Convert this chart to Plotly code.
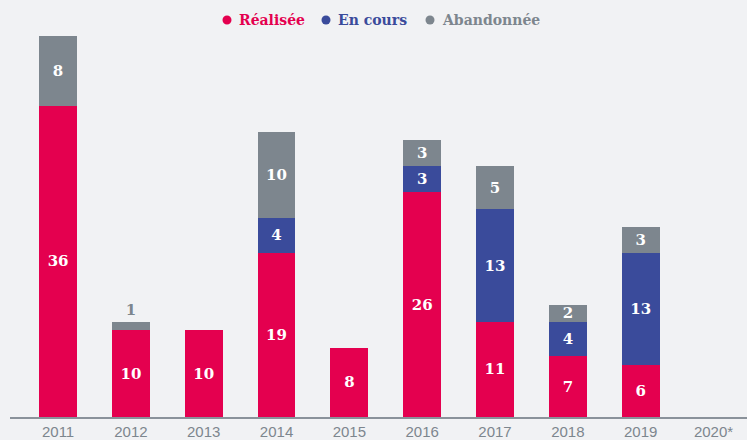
import plotly.graph_objects as go

years = ["2011", "2012", "2013", "2014", "2015", "2016", "2017", "2018", "2019", "2020*"]
realisee = [36, 10, 10, 19, 8, 26, 11, 7, 6, 0]
en_cours = [0, 0, 0, 4, 0, 3, 13, 4, 13, 0]
abandonnee = [8, 1, 0, 10, 0, 3, 5, 2, 3, 0]

series = [
    ("Réalisée", realisee, "#e4004f"),
    ("En cours", en_cours, "#3a4b9b"),
    ("Abandonnée", abandonnee, "#7d868e"),
]

BG = "#f1f2f4"
LABEL_FONT = "DejaVu Serif"
W, H = 747, 440
ML, MR, MT, MB = 10, 0, 0, 23

fig = go.Figure()
xs = list(range(len(years)))
for name, vals, color in series:
    texts, positions, tcolors = [], [], []
    for v in vals:
        if v == 0:
            texts.append("")
            positions.append("inside")
            tcolors.append("white")
        elif v <= 1:
            texts.append(str(v))
            positions.append("outside")
            tcolors.append(color)
        else:
            texts.append(str(v))
            positions.append("inside")
            tcolors.append("white")
    fig.add_trace(go.Bar(
        x=xs, y=vals, name=name, marker=dict(color=color, line=dict(width=0)),
        text=texts, textposition=positions, insidetextanchor="middle",
        textangle=0,
        textfont=dict(family=LABEL_FONT, size=15, color=tcolors, weight="bold"),
        constraintext="none", cliponaxis=False, showlegend=False,
        hoverinfo="skip",
    ))

# custom legend (circle + coloured label)
legend_px = [227, 326, 430]  # circle centres in pixels
legend_y = (H - MB - MT - 20) / (H - MB - MT)
pw = W - ML - MR
for (name, vals, color), cx in zip(series, legend_px):
    xa = (cx - ML) / pw
    fig.add_shape(type="circle", xref="paper", yref="paper",
                  xsizemode="pixel", ysizemode="pixel",
                  xanchor=xa, yanchor=legend_y,
                  x0=-4.5, x1=4.5, y0=-4.5, y1=4.5,
                  fillcolor=color, line=dict(width=0))
    fig.add_annotation(xref="paper", yref="paper", x=(cx + 10 - ML) / pw, y=legend_y,
                       xanchor="left", yanchor="middle", showarrow=False,
                       text=name, font=dict(family=LABEL_FONT, size=14, color=color, weight="bold"))

fig.update_layout(
    barmode="stack",
    bargap=0.48,
    width=W, height=H,
    margin=dict(l=ML, r=MR, t=MT, b=MB, autoexpand=False),
    paper_bgcolor=BG, plot_bgcolor=BG,
    showlegend=False,
    xaxis=dict(
        tickmode="array", tickvals=xs, ticktext=years,
        range=[-0.66, 9.46], showgrid=False, zeroline=False,
        showline=True, linecolor="#8a929a", linewidth=1.5,
        ticks="", ticklabelstandoff=0, automargin=False,
        tickfont=dict(family="Liberation Sans", size=15, color="#7d868e"),
    ),
    yaxis=dict(range=[0, 48.2], showgrid=False, zeroline=False, showticklabels=False,
               showline=False, automargin=False),
)

fig.write_html("out.html", config={"displayModeBar": False},
               post_script="document.body.style.margin='0';document.body.style.padding='0';document.body.style.overflow='hidden';")
